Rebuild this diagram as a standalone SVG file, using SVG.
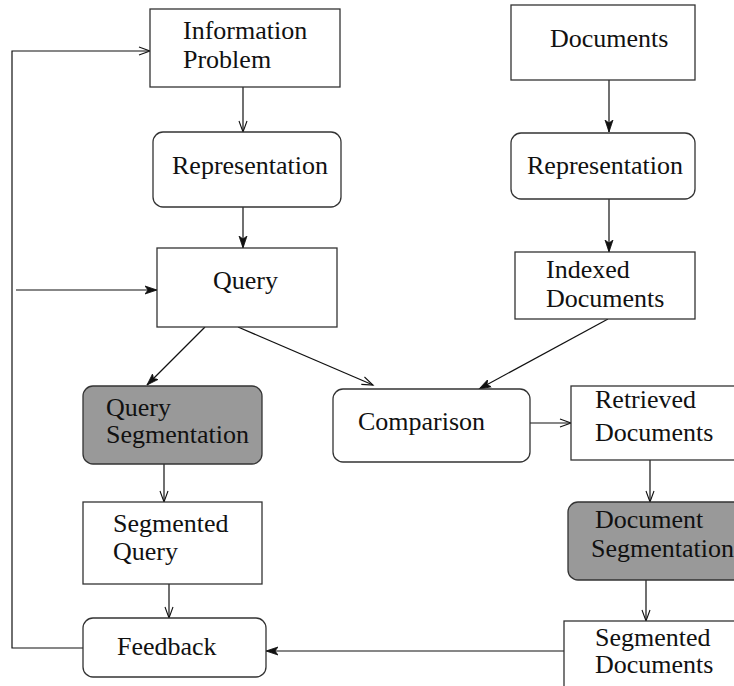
<svg xmlns="http://www.w3.org/2000/svg" width="734" height="686" viewBox="0 0 734 686">
<style>
.box{fill:#fff;stroke:#333;stroke-width:1.3}
.gray{fill:#999;stroke:#333;stroke-width:1.3}
.t{font-family:"Liberation Serif","Times New Roman",serif;font-size:26px;fill:#111}
.c{fill:none;stroke:#111;stroke-width:1.2}
</style>
<defs>
<marker id="open" markerUnits="userSpaceOnUse" markerWidth="14" markerHeight="10" refX="12" refY="5" orient="auto">
<path d="M1,1 L12,5 L1,9" fill="none" stroke="#111" stroke-width="1.1"/>
</marker>
<marker id="fill" markerUnits="userSpaceOnUse" markerWidth="14" markerHeight="10" refX="12" refY="5" orient="auto">
<path d="M0,1 L12,5 L0,9 L3,5 Z" fill="#111" stroke="#111" stroke-width="0.8"/>
</marker>
</defs>
<rect width="734" height="686" fill="#fff"/>
<g id="connectors">
<path class="c" d="M243,87 V132" marker-end="url(#open)"/>
<path class="c" d="M609,80 V132" marker-end="url(#fill)"/>
<path class="c" d="M243,207 V248" marker-end="url(#fill)"/>
<path class="c" d="M609,199 V252" marker-end="url(#fill)"/>
<path class="c" d="M16,290 H157" marker-end="url(#fill)"/>
<path class="c" d="M205,327 L147,385" marker-end="url(#fill)"/>
<path class="c" d="M238,327 L373,385" marker-end="url(#open)"/>
<path class="c" d="M608,319 L479,389" marker-end="url(#fill)"/>
<path class="c" d="M530,423 H571" marker-end="url(#open)"/>
<path class="c" d="M164,464 V502" marker-end="url(#open)"/>
<path class="c" d="M169,584 V618" marker-end="url(#open)"/>
<path class="c" d="M650,460 V502" marker-end="url(#open)"/>
<path class="c" d="M646,580 V621" marker-end="url(#open)"/>
<path class="c" d="M564,651 H266" marker-end="url(#fill)"/>
<path class="c" d="M83,648 H12 V51 H150" marker-end="url(#open)"/>
</g>
<g id="info-problem">
<rect class="box" x="150" y="9" width="190" height="78"/>
<text class="t" x="183" y="39">Information</text>
<text class="t" x="183" y="68">Problem</text>
</g>
<g id="documents">
<rect class="box" x="511" y="5" width="184" height="75"/>
<text class="t" x="550" y="47">Documents</text>
</g>
<g id="representation-q">
<rect class="box" x="153" y="132" width="188" height="75" rx="10"/>
<text class="t" x="172" y="174">Representation</text>
</g>
<g id="representation-d">
<rect class="box" x="511" y="133" width="184" height="66" rx="10"/>
<text class="t" x="527" y="174">Representation</text>
</g>
<g id="query">
<rect class="box" x="157" y="248" width="180" height="79"/>
<text class="t" x="213" y="289">Query</text>
</g>
<g id="indexed-documents">
<rect class="box" x="515" y="252" width="180" height="67"/>
<text class="t" x="546" y="278">Indexed</text>
<text class="t" x="546" y="307">Documents</text>
</g>
<g id="query-segmentation">
<rect class="gray" x="83" y="386" width="179" height="78" rx="10"/>
<text class="t" x="106" y="416">Query</text>
<text class="t" x="106" y="443">Segmentation</text>
</g>
<g id="comparison">
<rect class="box" x="333" y="389" width="197" height="73" rx="10"/>
<text class="t" x="358" y="430">Comparison</text>
</g>
<g id="retrieved-documents">
<rect class="box" x="571" y="386" width="180" height="74"/>
<text class="t" x="595" y="408">Retrieved</text>
<text class="t" x="595" y="441">Documents</text>
</g>
<g id="segmented-query">
<rect class="box" x="83" y="502" width="179" height="82"/>
<text class="t" x="113" y="532">Segmented</text>
<text class="t" x="113" y="560">Query</text>
</g>
<g id="document-segmentation">
<rect class="gray" x="568" y="502" width="190" height="78" rx="10"/>
<text class="t" x="595" y="528">Document</text>
<text class="t" x="591" y="557">Segmentation</text>
</g>
<g id="feedback">
<rect class="box" x="83" y="618" width="183" height="59" rx="10"/>
<text class="t" x="117" y="655">Feedback</text>
</g>
<g id="segmented-documents">
<rect class="box" x="564" y="621" width="190" height="80"/>
<text class="t" x="595" y="646">Segmented</text>
<text class="t" x="595" y="673">Documents</text>
</g>
</svg>
